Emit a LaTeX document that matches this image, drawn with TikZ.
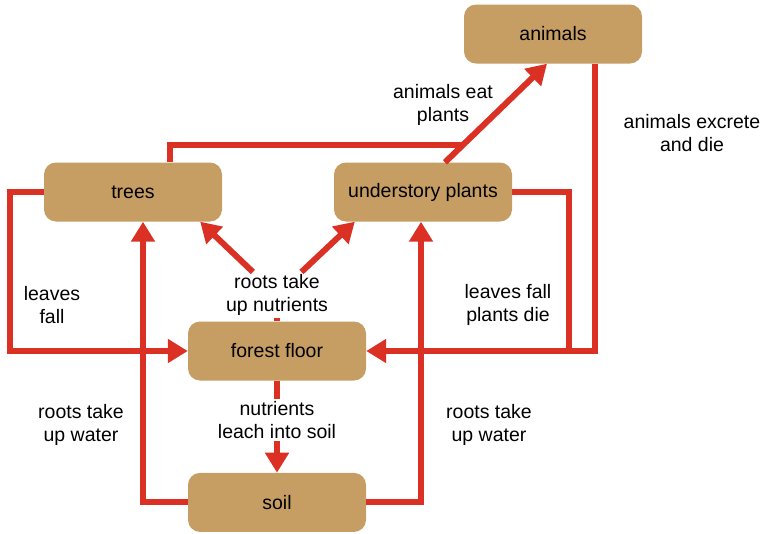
\documentclass[tikz,border=0pt]{standalone}
\usepackage{fontspec}
\setmainfont{Liberation Sans}
\usepackage{xcolor}
\usetikzlibrary{arrows.meta, positioning, calc}
\definecolor{pooltan}{RGB}{198,157,98}
\definecolor{cyclered}{RGB}{219,48,36}

\begin{document}
\begin{tikzpicture}[
    x=1pt, y=-1pt,
    node distance=92pt,
    pool/.style={rounded corners=12pt, fill=pooltan, minimum width=178pt,
        minimum height=59pt, font=\fontsize{19.5}{23.5}\selectfont},
    flow/.style={-{Triangle[length=20pt, width=23pt]}, line width=6pt, draw=cyclered},
    link/.style={line width=6pt, draw=cyclered},
    note/.style={align=center, font=\fontsize{19.5}{23.5}\selectfont, inner sep=2pt}
]
\useasboundingbox (0,0) rectangle (763,533);
\node[pool] (floor) at (277,351) {forest floor};
\node[pool, below=of floor] (soil) {soil};
\node[pool] (trees) at (133,192) {trees};
\node[pool] (plants) at (423,192) {understory plants};
\node[pool] (animals) at (553,34) {animals};
\node[note] (uptake) at (277,295) {roots take\\up nutrients};
\node[note] (leach) at (277,420) {nutrients\\leach into soil};
\node[note] (fall) at (52,305) {leaves\\fall};
\node[note] (eat) at (443,105) {animals eat\\plants};
\node[note] (excrete) at (692,133) {animals excrete\\and die};
\node[note] (die) at (508,305) {leaves fall\\plants die};
\node[note] (waterL) at (81,425) {roots take\\up water};
\node[note] (waterR) at (489,425) {roots take\\up water};
\coordinate (join) at (463,145);
% leaves and dead matter down to the floor
\draw[flow] (trees.west) -- ++(-34,0) |- (floor.west);
\draw[link] ([xshift=37pt]trees.north) |- (join);
\draw[flow] ([xshift=22pt]plants.north) -- ([xshift=-6pt]animals.south);
\draw[flow] ([xshift=42pt]animals.south) |- (floor.east);
\draw[link] (plants.east) -| ($(floor.east)+(203,0)$);
% roots
\draw[flow] (soil.west) -| ([xshift=10pt]trees.south);
\draw[flow] (soil.east) -| ([xshift=-2pt]plants.south);
\draw[link] (floor) -- (uptake);
\draw[flow] (uptake) -- ([xshift=-22pt]trees.south east);
\draw[flow] (uptake) -- ([xshift=21pt]plants.south west);
\draw[link] (floor) -- (leach);
\draw[flow] (leach) -- (soil);
\end{tikzpicture}
\end{document}
